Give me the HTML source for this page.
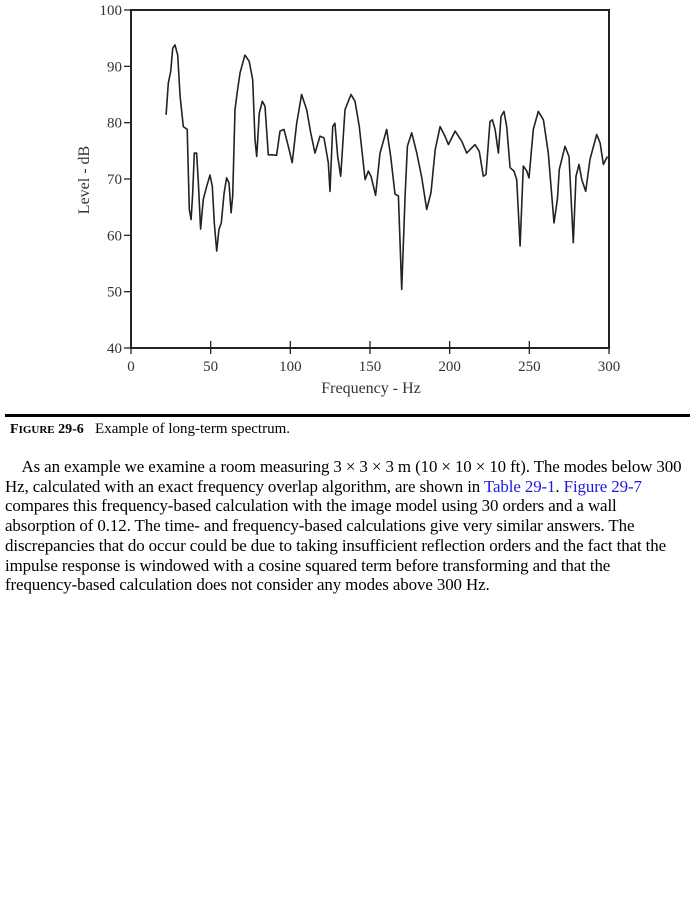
<!DOCTYPE html>
<html><head><meta charset="utf-8">
<style>
body{margin:0;background:#fff;width:695px;height:900px;overflow:hidden;position:relative;font-family:"Liberation Serif",serif;}
svg{position:absolute;left:0;top:0}
.rule{position:absolute;left:5px;top:414px;width:685px;height:3px;background:#000}
.cap{position:absolute;left:10px;top:421px;font-size:15px;white-space:nowrap}
.cap b{font-weight:bold;font-size:14px}
.para{position:absolute;left:5px;top:457px;font-size:16.9px;line-height:19.7px;white-space:nowrap;letter-spacing:-0.1px}
.para a{color:#1a1adf;text-decoration:none}
</style></head>
<body>
<svg id="chart" width="695" height="410"></svg>
<div class="rule"></div>
<div class="cap"><b>F<span style="font-size:11px">IGURE</span> 29-6</b>&nbsp;&nbsp; Example of long-term spectrum.</div>
<div class="para">
<div>&nbsp;&nbsp;&nbsp;&nbsp;As an example we examine a room measuring 3 × 3 × 3 m (10 × 10 × 10 ft). The modes below 300</div>
<div>Hz, calculated with an exact frequency overlap algorithm, are shown in <a>Table 29-1</a>. <a>Figure 29-7</a></div>
<div>compares this frequency-based calculation with the image model using 30 orders and a wall</div>
<div>absorption of 0.12. The time- and frequency-based calculations give very similar answers. The</div>
<div>discrepancies that do occur could be due to taking insufficient reflection orders and the fact that the</div>
<div>impulse response is windowed with a cosine squared term before transforming and that the</div>
<div>frequency-based calculation does not consider any modes above 300 Hz.</div>
</div>
<script>
const freqs=[22.0,23.4,24.9,26.2,27.6,29.3,30.8,32.8,35.3,36.6,37.7,38.7,39.7,41.2,42.2,43.7,45.4,47.5,49.6,51.0,52.3,53.8,55.2,56.7,58.4,60.0,61.5,62.8,63.8,65.3,66.7,68.4,71.5,74.2,76.4,77.8,78.9,80.5,82.4,84.1,86.2,88.7,91.4,93.5,96.0,98.7,101.2,104.0,107.1,110.3,112.8,115.5,118.6,121.1,123.8,124.9,126.6,128.0,129.7,131.6,134.3,138.1,140.6,143.3,146.9,149.0,150.6,153.5,156.3,160.5,163.0,165.7,167.8,169.9,172.0,173.5,176.2,179.4,182.5,185.6,188.3,190.9,194.0,197.1,199.2,203.4,207.6,210.7,215.9,218.6,221.1,222.8,225.3,226.8,228.5,230.6,232.2,234.1,235.8,237.9,240.4,242.1,244.2,246.2,248.4,249.8,252.5,255.6,258.8,261.9,265.5,267.6,268.8,272.4,274.9,277.6,279.3,281.2,282.9,285.4,288.1,292.3,294.4,296.5,299.0];
const levels=[81.4,87.0,89.1,93.2,93.8,92.0,84.7,79.3,78.8,64.6,62.8,67.5,74.6,74.6,69.9,61.1,66.4,68.7,70.7,68.7,62.2,57.2,61.1,62.2,67.5,70.2,69.3,64.0,67.0,82.3,85.5,88.8,92.0,90.9,87.6,77.0,74.0,81.7,83.8,82.9,74.3,74.3,74.2,78.5,78.8,75.8,72.9,79.9,85.0,82.3,78.2,74.6,77.6,77.3,72.9,67.8,79.3,79.9,74.0,70.5,82.3,85.0,83.8,79.3,69.9,71.4,70.5,67.1,74.6,78.8,74.0,67.3,67.0,50.4,67.0,75.8,78.2,74.6,70.2,64.6,67.6,75.2,79.3,77.6,76.1,78.5,76.7,74.6,76.1,74.9,70.5,70.8,80.2,80.5,78.8,74.6,81.1,82.0,79.3,72.0,71.4,69.9,58.1,72.3,71.4,70.2,78.8,82.0,80.5,74.6,62.2,66.4,71.7,75.8,74.0,58.7,70.5,72.6,69.9,67.8,73.5,77.9,76.4,72.6,74.0];
const xTicks=[0,50,100,150,200,250,300];
const yTicks=[40,50,60,70,80,90,100];
const X0=131,X1=609,Y0=348,Y1=10;
const xs=v=>X0+(v-0)/300*(X1-X0);
const ys=v=>Y0-(v-40)/60*(Y0-Y1);
const svg=document.getElementById('chart');
const NS='http://www.w3.org/2000/svg';
function mk(t,a){const e=document.createElementNS(NS,t);for(const k in a)e.setAttribute(k,a[k]);svg.appendChild(e);return e;}
let f=mk('rect',{x:X0,y:Y1,width:X1-X0,height:Y0-Y1,fill:'none',stroke:'#222','stroke-width':2});


yTicks.forEach(v=>{
 let l=mk('line',{x1:X0-7,x2:X0,y1:ys(v),y2:ys(v),stroke:'#222','stroke-width':1.3});
 
 
 let t=mk('text',{x:X0-9,y:ys(v)+5,'text-anchor':'end','font-size':15,fill:'#333','font-family':'Liberation Serif, serif'});
 t.textContent=v;
 
 
});
xTicks.forEach(v=>{
 let l=mk('line',{x1:xs(v),x2:xs(v),y1:Y0-7,y2:Y0+6,stroke:'#222','stroke-width':1.3});
 
 
 let t=mk('text',{x:xs(v),y:Y0+23,'text-anchor':'middle','font-size':15,fill:'#333','font-family':'Liberation Serif, serif'});
 t.textContent=v;
 
 
});
let xt=mk('text',{x:371,y:393,'text-anchor':'middle','font-size':16,fill:'#333','font-family':'Liberation Serif, serif'});
xt.textContent='Frequency - Hz';


let yt=mk('text',{x:0,y:0,'text-anchor':'middle','font-size':16,fill:'#333','font-family':'Liberation Serif, serif',transform:'translate(89,180) rotate(-90)'});
yt.textContent='Level - dB';


let d=freqs.map((f,i)=>(i?'L':'M')+xs(f).toFixed(1)+','+ys(levels[i]).toFixed(1)).join(' ');
let p=mk('path',{d:d,fill:'none',stroke:'#222','stroke-width':1.6,'stroke-linejoin':'round'});


</script>
</body></html>
